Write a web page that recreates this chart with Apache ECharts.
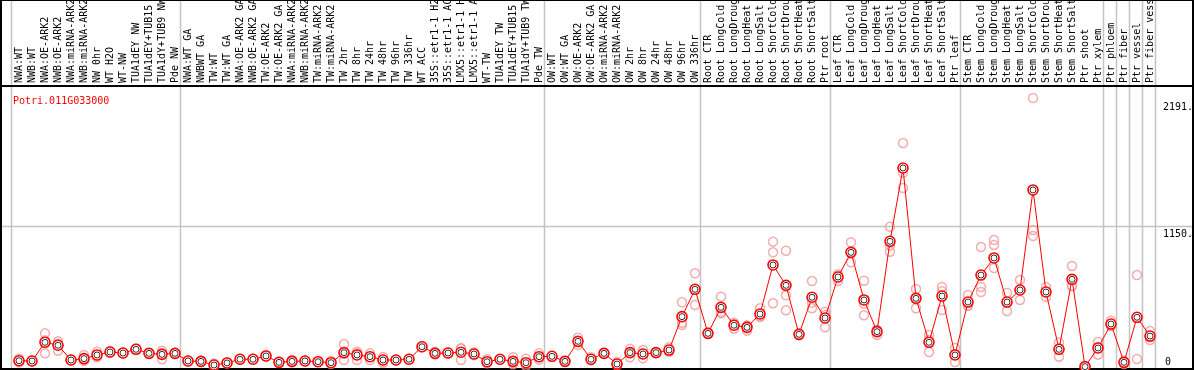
<!DOCTYPE html>
<html>
<head>
<meta charset="utf-8">
<script src="https://cdn.jsdelivr.net/npm/echarts@6/dist/echarts.min.js"></script>
<style>
  html, body { margin: 0; padding: 0; background: #fff; }
  #chart { width: 1194px; height: 370px; }
</style>
</head>
<body>
<div id="chart"></div>
<script>
const geneId = 'Potri.011G033000'

const categories = [
  'NWA:WT', 'NWB:WT', 'NWA:OE-ARK2', 'NWB:OE-ARK2', 'NWA:miRNA-ARK2', 'NWB:miRNA-ARK2',
  'NW 0hr', 'WT H2O', 'WT-NW', 'TUA1dEY NW', 'TUA1dEY+TUB15 NW', 'TUA1dY+TUB9 NW', 'Pde NW',
  'NWA:WT GA', 'NWBWT GA', 'TW:WT', 'TW:WT GA', 'NWA:OE-ARK2 GA', 'NWB:OE-ARK2 GA',
  'TW:OE-ARK2', 'TW:OE-ARK2 GA', 'NWA:miRNA-ARK2', 'NWB:miRNA-ARK2', 'TW:miRNA-ARK2',
  'TW:miRNA-ARK2', 'TW 2hr', 'TW 8hr', 'TW 24hr', 'TW 48hr', 'TW 96hr', 'TW 336hr',
  'WT ACC', '35S::etr1-1 H2O', '35S::etr1-1 ACC', 'LMX5::etr1-1 H2O', 'LMX5::etr1-1 ACC',
  'WT-TW', 'TUA1dEY TW', 'TUA1dEY+TUB15 TW', 'TUA1dY+TUB9 TW', 'Pde TW',
  'OW:WT', 'OW:WT GA', 'OW:OE-ARK2', 'OW:OE-ARK2 GA', 'OW:miRNA-ARK2', 'OW:miRNA-ARK2',
  'OW 2hr', 'OW 8hr', 'OW 24hr', 'OW 48hr', 'OW 96hr', 'OW 336hr',
  'Root CTR', 'Root LongCold', 'Root LongDrought', 'Root LongHeat', 'Root LongSalt',
  'Root ShortCold', 'Root ShortDrought', 'Root ShortHeat', 'Root ShortSalt', 'Ptr root',
  'Leaf CTR', 'Leaf LongCold', 'Leaf LongDrought', 'Leaf LongHeat', 'Leaf LongSalt',
  'Leaf ShortCold', 'Leaf ShortDrought', 'Leaf ShortHeat', 'Leaf ShortSalt', 'Ptr leaf',
  'Stem CTR', 'Stem LongCold', 'Stem LongDrought', 'Stem LongHeat', 'Stem LongSalt',
  'Stem ShortCold', 'Stem ShortDrought', 'Stem ShortHeat', 'Stem ShortSalt',
  'Ptr shoot', 'Ptr xylem', 'Ptr phloem', 'Ptr fiber', 'Ptr vessel', 'Ptr fiber vessel'
]

const meanValues = [
  51, 49, 201, 177, 57, 68, 98, 122, 114, 144, 111, 103, 111,
  49, 46, 16, 33, 63, 63, 90, 38, 46, 49, 43, 35, 117, 98, 84, 57, 57, 63,
  165, 111, 114, 120, 106, 43, 63, 46, 35, 84,
  87, 46, 209, 63, 111, 24, 117, 106, 117, 138, 410, 633,
  274, 486, 340, 323, 432, 831, 665, 266, 568, 399,
  733, 934, 546, 288, 1024, 1621, 559, 201, 578, 98,
  529, 749, 888, 529, 627, 1442, 611, 144, 714,
  3, 155, 350, 38, 405, 252
]

const rep1 = [
  68, 52, 274, 209, 60, 98, 125, 130, 118, 150, 115, 133, 115,
  52, 50, 28, 38, 68, 68, 98, 43, 60, 52, 46, 50, 187, 125, 111, 82, 60, 66,
  170, 125, 118, 152, 120, 63, 66, 80, 68, 111,
  90, 50, 239, 80, 115, 40, 149, 138, 120, 160, 527, 763,
  280, 573, 360, 296, 478, 1021, 947, 275, 700, 450,
  755, 1016, 703, 261, 1143, 1824, 635, 260, 652, 155,
  586, 977, 1034, 603, 709, 2191, 652, 84, 823,
  5, 204, 377, 24, 749, 293
]

const rep2 = [
  38, 46, 111, 133, 55, 55, 90, 118, 110, 140, 108, 63, 108,
  46, 42, 5, 30, 60, 60, 85, 35, 40, 46, 40, 28, 57, 57, 57, 35, 55, 60,
  160, 105, 110, 57, 95, 35, 60, 35, 10, 60,
  85, 42, 180, 55, 108, 15, 79, 71, 114, 130, 342, 505,
  268, 437, 312, 335, 410, 934, 584, 258, 478, 323,
  700, 853, 421, 300, 939, 1458, 478, 122, 464, 40,
  500, 652, 994, 456, 546, 1116, 570, 200, 660,
  2, 100, 340, 50, 65, 220
]

const rep3 = [
  47, 49, 218, 189, 56, 51, 79, 118, 114, 142, 110, 113, 110,
  49, 46, 15, 31, 61, 61, 87, 36, 38, 49, 43, 27, 107, 112, 84, 54, 56, 63,
  165, 103, 114, 151, 103, 31, 63, 23, 27, 81,
  86, 46, 208, 54, 110, 17, 123, 109, 117, 124, 361, 631,
  274, 448, 348, 338, 408, 519, 462, 265, 526, 424,
  744, 933, 514, 303, 990, 1581, 564, 221, 618, 99,
  501, 611, 806, 528, 626, 1067, 611, 148, 659,
  2, 161, 333, 40, 401, 243
]

const yTicks = [0, 1150, 2191]
// index of the last category in each group; a grey rule sits just after it
const groupEnds = [-1, 12, 40, 52, 62, 72, 83, 84, 85, 86, 87]

const chart = echarts.init(document.getElementById('chart'), null, {renderer: 'canvas'})

const mono = 'DejaVu Sans Mono'

const repSeries = [rep1, rep2, rep3].map((data) => ({
  type: 'scatter',
  data,
  symbol: 'circle',
  symbolSize: 9,
  clip: false,
  z: 2,
  itemStyle: {color: 'rgba(0,0,0,0)', borderColor: '#f09a9a', borderWidth: 1.5},
}))

chart.setOption({
  animation: false,
  backgroundColor: '#fff',
  title: {
    text: geneId,
    left: 8,
    top: 91,
    textStyle: {color: '#f00', fontFamily: mono, fontSize: 10, fontWeight: 'normal'},
  },
  grid: {left: 19, right: 44, top: 98, bottom: 3, outerBoundsMode: 'none', containLabel: false},
  xAxis: {
    type: 'category',
    position: 'top',
    data: categories,
    boundaryGap: false,
    offset: 12,
    axisLine: {show: false},
    axisTick: {show: false},
    splitLine: {show: false},
    axisLabel: {
      rotate: 90,
      interval: 0,
      margin: 3,
      hideOverlap: false,
      color: '#000',
      fontFamily: mono,
      fontSize: 10,
    },
  },
  yAxis: {
    type: 'value',
    position: 'right',
    min: yTicks[0],
    max: yTicks[2],
    interval: yTicks[1],
    axisLine: {show: false},
    axisTick: {show: false},
    splitLine: {show: false},
    axisLabel: {
      margin: 13,
      color: '#000',
      fontFamily: mono,
      fontSize: 10,
      formatter: (v) => (v === 0 ? '{lo|0}' : '{hi|' + v + '.}'),
      rich: {
        hi: {fontFamily: mono, fontSize: 10, color: '#000', padding: [18, 0, 0, 0]},
        lo: {fontFamily: mono, fontSize: 10, color: '#000', padding: [0, 0, 10, 2]},
      },
    },
  },
  series: [
    ...repSeries,
    {
      type: 'line',
      data: meanValues,
      symbol: 'circle',
      symbolSize: 10,
      clip: false,
      z: 3,
      lineStyle: {color: '#f00', width: 1},
      itemStyle: {color: '#fff', borderColor: '#f00', borderWidth: 1.6},
    },
    {
      type: 'scatter',
      data: meanValues,
      symbol: 'circle',
      symbolSize: 6,
      clip: false,
      z: 4,
      itemStyle: {color: 'rgba(0,0,0,0)', borderColor: '#000', borderWidth: 1},
    },
  ],
})

// frame and rules placed from the axes' own scales
const x0 = chart.convertToPixel({xAxisIndex: 0}, 0)
const step = chart.convertToPixel({xAxisIndex: 0}, 1) - x0
const yRule = Math.round(chart.convertToPixel({yAxisIndex: 0}, yTicks[1])) + 0.5
const W = 1194
const H = 370
const headerY = 86

const grey = {stroke: '#c4c4c4', lineWidth: 1.5}
const black = {stroke: '#000', lineWidth: 2}

const rules = groupEnds.map((i) => {
  const x = Math.round(x0 + step * i + 5) + 0.5
  return {type: 'line', silent: true, z: 0, shape: {x1: x, y1: 0, x2: x, y2: H}, style: grey}
})

chart.setOption({
  graphic: [
    ...rules,
    {type: 'line', silent: true, z: 0, shape: {x1: 0, y1: yRule, x2: W, y2: yRule}, style: grey},
    {type: 'line', silent: true, z: 1, shape: {x1: 0, y1: headerY, x2: W, y2: headerY}, style: black},
    {type: 'rect', silent: true, z: 1, shape: {x: 1, y: 0, width: W - 2, height: H - 1}, style: {fill: null, stroke: '#000', lineWidth: 2}},
  ],
})
</script>
</body>
</html>
